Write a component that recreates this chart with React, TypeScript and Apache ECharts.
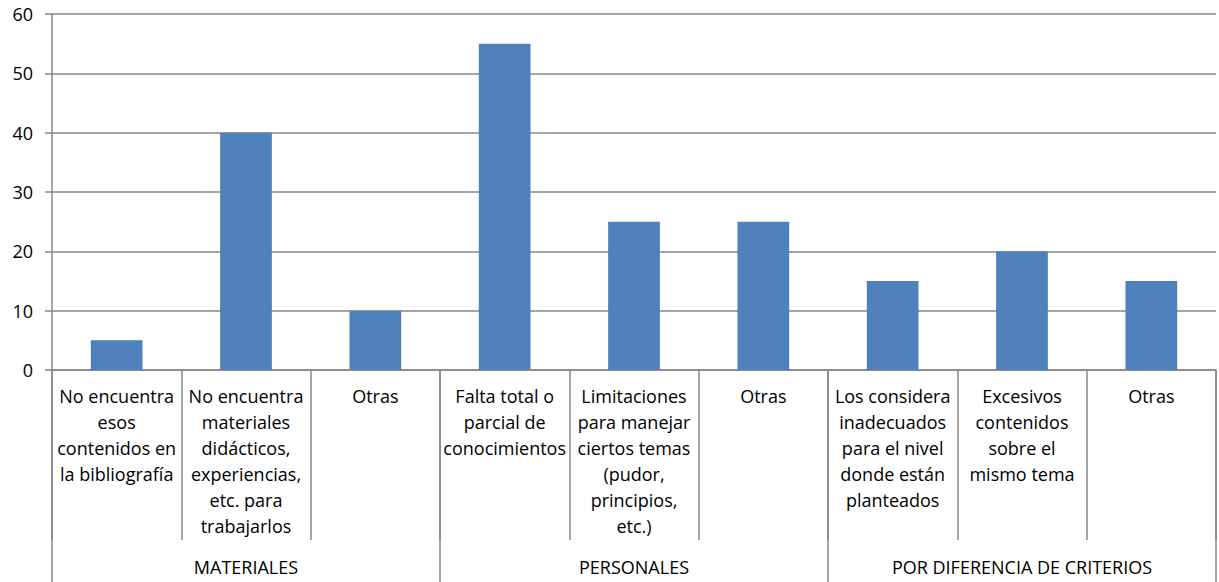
import React, { useEffect, useRef } from "react";
import * as echarts from "echarts";

const categories = [
  "No encuentra\nesos\ncontenidos en\nla bibliografía",
  "No encuentra\nmateriales\ndidácticos,\nexperiencias,\netc. para\ntrabajarlos",
  "Otras",
  "Falta total o\nparcial de\nconocimientos",
  "Limitaciones\npara manejar\nciertos temas\n(pudor,\nprincipios,\netc.)",
  "Otras",
  "Los considera\ninadecuados\npara el nivel\ndonde están\nplanteados",
  "Excesivos\ncontenidos\nsobre el\nmismo tema",
  "Otras",
];
const groups = ["MATERIALES", "PERSONALES", "POR DIFERENCIA DE CRITERIOS"];
const values = [5, 40, 10, 55, 25, 25, 15, 20, 15];
const yTicks = { min: 0, max: 60, interval: 10 };

const FONT = "Open Sans";
const LINE = "#878787";

export default function App() {
  const ref = useRef<HTMLDivElement>(null);
  useEffect(() => {
    const chart = echarts.init(ref.current!, null, { renderer: "svg" });
    chart.setOption({
      animation: false,
      grid: { left: 52, right: 3, top: 14, bottom: 212, containLabel: false },
      xAxis: [
        {
          type: "category",
          data: categories,
          position: "bottom",
          axisLine: { show: true, lineStyle: { color: LINE, width: 1.5 } },
          axisTick: { show: true, length: 170, interval: 0, lineStyle: { color: LINE, width: 1.5 } },
          axisLabel: {
            interval: 0,
            margin: 13,
            color: "#000",
            fontFamily: FONT,
            fontSize: 18,
            lineHeight: 26,
            align: "center",
            verticalAlign: "top",
          },
        },
        {
          type: "category",
          data: groups,
          position: "bottom",
          axisLine: { show: false },
          axisTick: { show: true, length: 212, interval: 0, lineStyle: { color: LINE, width: 1.5 } },
          axisLabel: {
            interval: 0,
            margin: 186,
            color: "#000",
            fontFamily: FONT,
            fontSize: 18,
            lineHeight: 22,
            verticalAlign: "top",
          },
        },
      ],
      yAxis: {
        type: "value",
        min: yTicks.min,
        max: yTicks.max,
        interval: yTicks.interval,
        axisLine: { show: true, lineStyle: { color: LINE, width: 1.5 } },
        axisTick: { show: true, length: 7, lineStyle: { color: LINE, width: 1.5 } },
        splitLine: { show: true, lineStyle: { color: LINE, width: 1.5 } },
        axisLabel: { color: "#000", fontFamily: FONT, fontSize: 18, margin: 19 },
      },
      series: [
        {
          type: "bar",
          data: values,
          xAxisIndex: 0,
          barWidth: "40%",
          itemStyle: { color: "#4F81BD" },
        },
      ],
    });
    return () => chart.dispose();
  }, []);
  return (
    <div
      ref={ref}
      style={{ position: "absolute", left: 0, top: 0, width: 1219, height: 582 }}
    />
  );
}
